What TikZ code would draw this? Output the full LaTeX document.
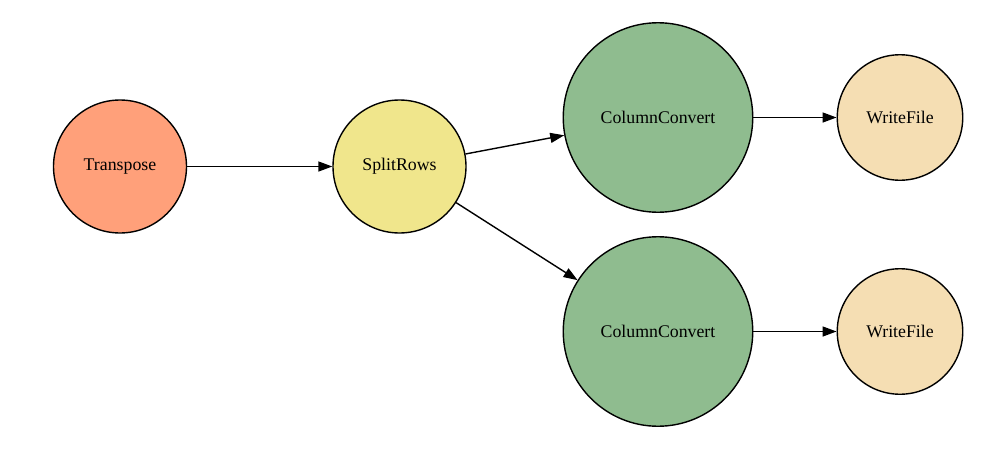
\documentclass[tikz,border=0pt]{standalone}
\usepackage{fontspec}
\setmainfont{Liberation Serif}
\usetikzlibrary{arrows.meta}
\definecolor{salmonc}{HTML}{FFA07A}
\definecolor{khakic}{HTML}{F0E68C}
\definecolor{seagreenc}{HTML}{8FBC8F}
\definecolor{wheatc}{HTML}{F5DEB3}
\begin{document}
\begin{tikzpicture}[x=1pt,y=-1pt,
  proc/.style={circle,draw=black,line width=1.4pt,inner sep=0pt,
    font=\rmfamily\fontsize{17.8}{20}\selectfont},
  conn/.style={line width=1.4pt,-{Triangle[length=14pt,width=10pt]}}]
\useasboundingbox (0,0) rectangle (1005,450);
\node[proc,fill=salmonc,minimum size=133pt] (t) at (120,166.5) {Transpose};
\node[proc,fill=khakic,minimum size=133pt] (s) at (399.5,166.5) {SplitRows};
\node[proc,fill=seagreenc,minimum size=189.5pt] (c1) at (658,117.5) {ColumnConvert};
\node[proc,fill=seagreenc,minimum size=189.5pt] (c2) at (658,331.5) {ColumnConvert};
\node[proc,fill=wheatc,minimum size=125.5pt] (w1) at (900,117.5) {WriteFile};
\node[proc,fill=wheatc,minimum size=125.5pt] (w2) at (900,331.5) {WriteFile};
\draw[conn] (t) -- (s);
\draw[conn] (s) -- (c1);
\draw[conn] (s) -- (c2);
\draw[conn] (c1) -- (w1);
\draw[conn] (c2) -- (w2);
\end{tikzpicture}
\end{document}
